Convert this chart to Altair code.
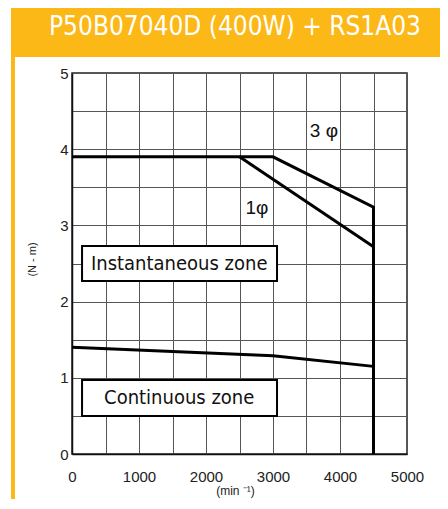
import altair as alt
import pandas as pd

# ---- data ----
chart_title = "P50B07040D (400W) + RS1A03"

rpm_3ph = [0, 3000, 4500, 4500]
torque_3ph = [3.90, 3.90, 3.24, 0.0]

rpm_1ph = [2500, 4500]
torque_1ph = [3.90, 2.72]

rpm_cont = [0, 3000, 4500]
torque_cont = [1.40, 1.29, 1.15]

zone_labels = ["Instantaneous zone", "Continuous zone"]
zone_x0 = [150, 150]
zone_x1 = [3060, 3060]
zone_y0 = [2.27, 0.50]
zone_y1 = [2.73, 0.97]
zone_lx = [1600, 1600]
zone_ly = [2.50, 0.74]

phase_labels = ["3 φ", "1φ"]
phase_x = [3760, 2760]
phase_y = [4.24, 3.23]

x_ticks = [0, 500, 1000, 1500, 2000, 2500, 3000, 3500, 4000, 4500, 5000]
y_ticks = [0, 0.5, 1, 1.5, 2, 2.5, 3, 3.5, 4, 4.5, 5]

W, H = 335, 381
ORANGE = "#FBB817"

lines_df = pd.DataFrame({
    "x": rpm_3ph + rpm_1ph + rpm_cont,
    "y": torque_3ph + torque_1ph + torque_cont,
    "series": ["3ph"] * len(rpm_3ph) + ["1ph"] * len(rpm_1ph) + ["cont"] * len(rpm_cont),
    "idx": list(range(len(rpm_3ph))) + list(range(len(rpm_1ph))) + list(range(len(rpm_cont))),
})
zones_df = pd.DataFrame({"label": zone_labels, "x": zone_x0, "x1": zone_x1,
                         "y": zone_y0, "y1": zone_y1})
zone_text_df = pd.DataFrame({"label": zone_labels, "x": zone_lx, "y": zone_ly})
phase_df = pd.DataFrame({"label": phase_labels, "x": phase_x, "y": phase_y})
title_df = pd.DataFrame({"t": [chart_title]})

x_scale = alt.Scale(domain=[0, 5000], nice=False, zero=False)
y_scale = alt.Scale(domain=[0, 5], nice=False, zero=False)

x_axis = alt.Axis(
    values=x_ticks,
    labelExpr="datum.value % 1000 == 0 ? format(datum.value, 'd') : ''",
    labelFlush=False, labelOverlap=False, labelPadding=15,
    ticks=False, domain=True, domainColor="#111", domainWidth=1.5,
    grid=True, gridColor="#555", gridWidth=1,
    labelFont="Liberation Sans", labelFontSize=15, labelColor="#222",
    title="(min ⁻¹)", titleX=163, titleY=36, titleBaseline="middle",
    titleAlign="center", titleFontSize=12, titleFontWeight="normal",
    titleFont="Liberation Sans", titleColor="#222",
)
y_axis = alt.Axis(
    values=y_ticks,
    labelExpr="datum.value % 1 == 0 ? format(datum.value, 'd') : ''",
    labelOverlap=False, labelPadding=4,
    ticks=False, domain=True, domainColor="#111", domainWidth=1.5,
    grid=True, gridColor="#555", gridWidth=1,
    labelFont="Liberation Sans", labelFontSize=15, labelColor="#222",
    title="(N - m)", titleX=-40, titleY=186, titleAngle=270,
    titleBaseline="middle", titleAlign="center", titleFontSize=11,
    titleFontWeight="normal", titleFont="Liberation Sans", titleColor="#222",
)

X = alt.X("x:Q", scale=x_scale, axis=x_axis)
Y = alt.Y("y:Q", scale=y_scale, axis=y_axis)

header = alt.Chart(title_df).mark_rect(color=ORANGE).encode(
    x=alt.value(-61), x2=alt.value(W + 41), y=alt.value(-69), y2=alt.value(-16)
)
left_border = alt.Chart(title_df).mark_rect(color=ORANGE).encode(
    x=alt.value(-61), x2=alt.value(-57), y=alt.value(-16), y2=alt.value(H + 60)
)
header_text = alt.Chart(title_df).mark_text(
    font="DejaVu Sans Condensed", fontSize=26, color="white",
    align="center", baseline="middle"
).encode(x=alt.value(163), y=alt.value(-46), text="t:N")

lines = alt.Chart(lines_df).mark_line(color="black", strokeWidth=3, strokeJoin="miter").encode(
    x=X, y=Y, detail="series:N", order="idx:Q",
)

boxes = alt.Chart(zones_df).mark_rect(fill="white", stroke="black", strokeWidth=2).encode(
    x=X, x2="x1:Q", y=Y, y2="y1:Q",
)
box_text = alt.Chart(zone_text_df).mark_text(
    font="DejaVu Sans Condensed", fontSize=20, color="#111"
).encode(x=X, y=Y, text="label:N")

phase_text = alt.Chart(phase_df).mark_text(
    font="Liberation Sans", fontSize=19, color="#111"
).encode(x=X, y=Y, text="label:N")

chart = alt.layer(
    lines, boxes, box_text, phase_text, header, left_border, header_text
).properties(
    width=W, height=H,
    autosize=alt.AutoSizeParams(type="none"),
    padding={"left": 64, "top": 65, "right": 33, "bottom": 45},
    background="white",
).configure_view(
    stroke="#222", strokeWidth=1.5
)

chart.save("out.html", embed_options={"renderer": "svg", "actions": False})
